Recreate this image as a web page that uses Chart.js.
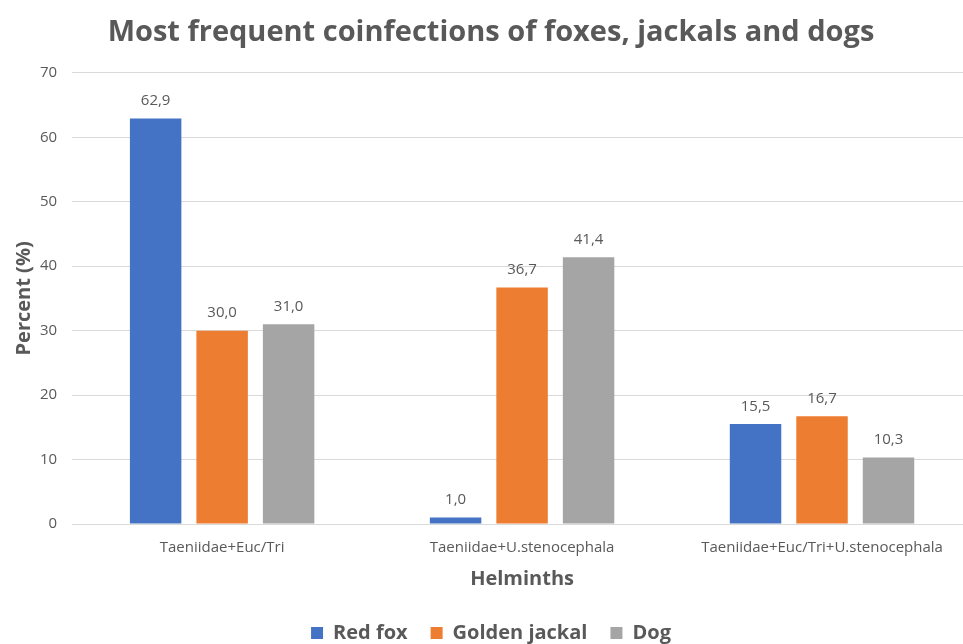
<!DOCTYPE html>
<html>
<head>
<meta charset="utf-8">
<script src="https://cdn.jsdelivr.net/npm/chart.js@4/dist/chart.umd.min.js"></script>
<style>
  html, body { margin: 0; padding: 0; background: #fff; overflow: hidden; }
  #wrap { width: 972px; height: 653px; }
</style>
</head>
<body>
<div id="wrap"><canvas id="chart"></canvas></div>
<script>
// DATA
const categories = ["Taeniidae+Euc/Tri", "Taeniidae+U.stenocephala", "Taeniidae+Euc/Tri+U.stenocephala"];
const redFox = [62.9, 1.0, 15.5];
const goldenJackal = [30.0, 36.7, 16.7];
const dog = [31.0, 41.4, 10.3];
const yTicks = [0, 10, 20, 30, 40, 50, 60, 70];

const FONT = "'Open Sans', sans-serif";
const GREY = "#595959";

// value labels above the bars
const barLabels = {
  id: "barLabels",
  afterDatasetsDraw(chart) {
    const ctx = chart.ctx;
    ctx.save();
    ctx.font = "15px " + FONT;
    ctx.fillStyle = GREY;
    ctx.textAlign = "center";
    ctx.textBaseline = "bottom";
    chart.data.datasets.forEach((ds, i) => {
      chart.getDatasetMeta(i).data.forEach((bar, j) => {
        const txt = ds.data[j].toFixed(1).replace(".", ",");
        ctx.fillText(txt, bar.x, bar.y - 10);
      });
    });
    ctx.restore();
  }
};

new Chart(document.getElementById("chart"), {
  type: "bar",
  data: {
    labels: categories,
    datasets: [
      { label: "Red fox", data: redFox, backgroundColor: "#4472c4" },
      { label: "Golden jackal", data: goldenJackal, backgroundColor: "#ed7d31" },
      { label: "Dog", data: dog, backgroundColor: "#a5a5a5" }
    ]
  },
  options: {
    responsive: true,
    maintainAspectRatio: false,
    animation: false,
    datasets: {
      bar: { categoryPercentage: 0.665, barPercentage: 0.774 }
    },
    layout: { padding: { left: 10, right: 0, top: 0, bottom: 0 } },
    plugins: {
      title: {
        display: true,
        text: "Most frequent coinfections of foxes, jackals and dogs",
        color: GREY,
        font: { family: FONT, size: 29, weight: "bold" },
        padding: { top: 15, bottom: 23 }
      },
      legend: {
        position: "bottom",
        labels: {
          color: GREY,
          font: { family: FONT, size: 20, weight: "bold" },
          boxWidth: 12,
          boxHeight: 12,
          padding: 23
        }
      },
      tooltip: { enabled: false }
    },
    scales: {
      x: {
        grid: { display: false, drawTicks: false },
        border: { color: "#d9d9d9" },
        ticks: { color: GREY, font: { family: FONT, size: 15 }, padding: 15 },
        title: {
          display: true,
          text: "Helminths",
          color: GREY,
          font: { family: FONT, size: 20, weight: "bold" },
          padding: { top: -5, bottom: 9 }
        }
      },
      y: {
        min: 0,
        max: 70,
        afterBuildTicks(axis) { axis.ticks = yTicks.map(v => ({ value: v })); },
        grid: { color: "#d9d9d9", drawTicks: false },
        border: { display: false },
        ticks: { color: GREY, font: { family: FONT, size: 15 }, padding: 15 },
        title: {
          display: true,
          text: "Percent (%)",
          color: GREY,
          font: { family: FONT, size: 20, weight: "bold" },
          padding: { top: 2, bottom: -11 }
        }
      }
    }
  },
  plugins: [barLabels]
});
</script>
</body>
</html>
